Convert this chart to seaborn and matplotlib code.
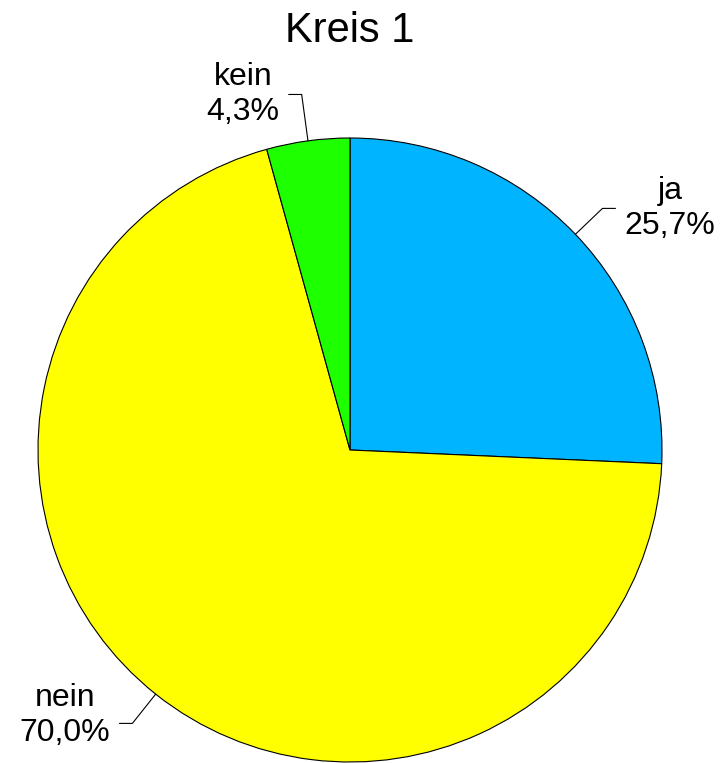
import numpy as np
import matplotlib.pyplot as plt
import seaborn as sns

labels = ['ja', 'nein', 'kein']
values = [25.7, 70.0, 4.3]
colors = ['#00B4FF', '#FFFF00', '#1EFF00']

sns.set_style("white")
plt.rcParams['font.family'] = ['Liberation Sans', 'DejaVu Sans']
plt.rcParams['text.color'] = 'black'

W, H = 725, 763
fig = plt.figure(figsize=(W / 100, H / 100), dpi=100)
ax = fig.add_axes([0, 0, 1, 1])
ax.set_aspect('equal')

cx, cy, r = 350, H - 450, 312
wedges, _ = ax.pie(values, colors=colors, startangle=90, counterclock=False,
                   center=(cx, cy), radius=r, frame=True,
                   wedgeprops=dict(edgecolor='black', linewidth=0.8))
ax.set_xlim(0, W)
ax.set_ylim(0, H)
ax.axis('off')

# labels with leader lines
for w, lab, v in zip(wedges, labels, values):
    ang = np.deg2rad((w.theta1 + w.theta2) / 2)
    x0, y0 = cx + r * np.cos(ang), cy + r * np.sin(ang)
    k = 1.15 if lab == 'kein' else 1.12
    x1, y1 = cx + k * r * np.cos(ang), cy + k * r * np.sin(ang)
    side = 1 if np.cos(ang) > 0 else -1
    x2 = x1 + side * 13
    ax.plot([x0, x1, x2], [y0, y1, y1], color='black', lw=0.8)
    txt = f"{lab}\n{v:.1f}%".replace('.', ',')
    ax.text(x2 + side * 9, y1 + (8 if lab == 'nein' else 0), txt,
            ha='left' if side > 0 else 'right', va='center', color='black',
            multialignment='center', fontsize=23, linespacing=1.25)

ax.text(cx, H - 31, 'Kreis 1', ha='center', va='center', fontsize=30, color='black')

fig.savefig('out.png', dpi=100)
